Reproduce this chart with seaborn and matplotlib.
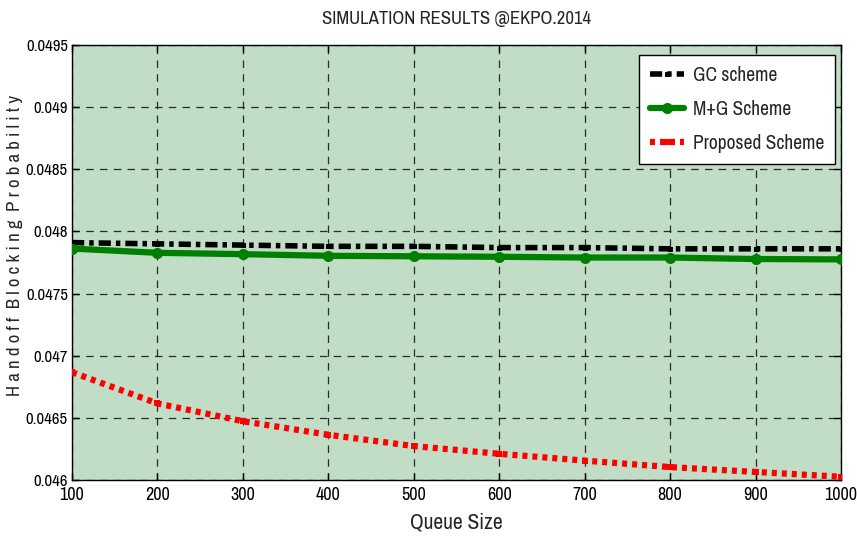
import matplotlib
matplotlib.use("Agg")
import matplotlib.pyplot as plt
import seaborn as sns
import pandas as pd

queue_size = [100, 200, 300, 400, 500, 600, 700, 800, 900, 1000]
gc_scheme = [0.04791, 0.04790, 0.04789, 0.04788, 0.04788, 0.04787, 0.04787, 0.04786, 0.04786, 0.04786]
mg_scheme = [0.047862, 0.047828, 0.047817, 0.047804, 0.047800, 0.047796, 0.047790, 0.047790, 0.047778, 0.047775]
proposed_scheme = [0.046867, 0.046616, 0.046473, 0.046364, 0.046273, 0.046211, 0.046156, 0.046104, 0.046065, 0.046026]

x_ticks = [100, 200, 300, 400, 500, 600, 700, 800, 900, 1000]
y_ticks = [0.046, 0.0465, 0.047, 0.0475, 0.048, 0.0485, 0.049, 0.0495]
y_tick_labels = ["0.046", "0.0465", "0.047", "0.0475", "0.048", "0.0485", "0.049", "0.0495"]

sns.set_theme(style="ticks")
plt.rcParams["font.family"] = ["Archivo Narrow", "Roboto Condensed", "Liberation Sans", "DejaVu Sans"]

df = pd.DataFrame({"q": queue_size, "gc": gc_scheme, "mg": mg_scheme, "pr": proposed_scheme})

fig = plt.figure(figsize=(8.57, 5.42), dpi=100)
ax = fig.add_axes([72 / 857, 1 - 480 / 542, (841 - 72) / 857, (480 - 45) / 542])
ax.set_facecolor("#c1ddc6")

sns.lineplot(data=df, x="q", y="gc", ax=ax, color="black", linewidth=4,
             linestyle=(0, (2.2, 0.9, 0.8, 0.9)), marker="s", markersize=3,
             markeredgecolor="black", label="GC scheme", zorder=3)
sns.lineplot(data=df, x="q", y="mg", ax=ax, color="#008000", linewidth=4.5,
             linestyle="-", marker="o", markersize=8, markeredgewidth=0,
             label="M+G Scheme", zorder=4)
sns.lineplot(data=df, x="q", y="pr", ax=ax, color="#ff0000", linewidth=4.5,
             linestyle=(0, (0.8, 0.8)), marker="s", markersize=5, markeredgewidth=0,
             label="Proposed Scheme", zorder=5)

ax.set_xlim(100, 1000)
ax.set_ylim(0.046, 0.0495)
ax.set_xticks(x_ticks)
ax.set_xticklabels([str(v) for v in x_ticks])
ax.set_yticks(y_ticks)
ax.set_yticklabels(y_tick_labels)
ax.tick_params(direction="in", length=5, width=1, colors="black",
               top=True, right=True, pad=3)
ax.tick_params(axis="x", labelsize=13, pad=5)
ax.tick_params(axis="y", labelsize=12)
ax.grid(True, color="black", linestyle=(0, (6, 5)), linewidth=0.9, alpha=0.8)
for s in ax.spines.values():
    s.set_color("black")
    s.set_linewidth(1)

ax.set_xlabel("Queue Size", fontsize=15.5, labelpad=7)
ax.set_ylabel("H a n d o f f  B l o c k i n g  P r o b a b i l i t y", fontsize=13.5)
ax.yaxis.set_label_coords(-0.064, 0.54)
ax.set_title("SIMULATION RESULTS @EKPO.2014", fontsize=13.5, pad=15)

leg = ax.legend(loc="upper right", fontsize=14, frameon=True, fancybox=False,
                handlelength=1.75, handletextpad=0.45, borderpad=0.55,
                labelspacing=0.78, borderaxespad=0,
                bbox_to_anchor=(0.9922, 0.977))
leg.get_frame().set_edgecolor("black")
leg.get_frame().set_facecolor("white")
leg.get_frame().set_linewidth(1)
leg.get_frame().set_alpha(1)

fig.savefig("out.png", dpi=100)
